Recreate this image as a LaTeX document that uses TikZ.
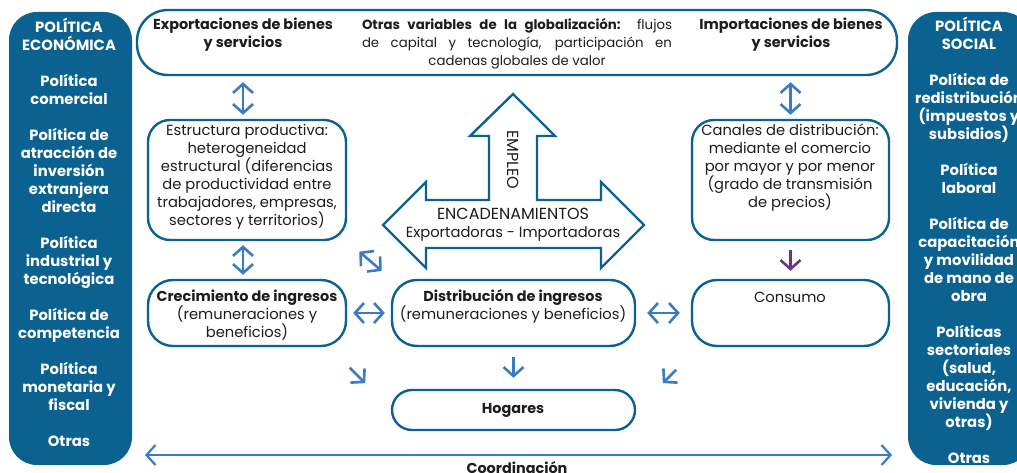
\documentclass[tikz,border=0pt]{standalone}
\usepackage{fontspec}
\setmainfont{Poppins}
\usetikzlibrary{arrows.meta,positioning}
\definecolor{cepalnavy}{RGB}{11,98,145}
\definecolor{cepalarrow}{RGB}{58,124,194}
\definecolor{cepalpurple}{RGB}{106,52,138}
\definecolor{cepaltext}{RGB}{30,28,30}

\begin{document}
\begin{tikzpicture}[x=1pt,y=-1pt,
    font=\fontsize{14.7}{18}\selectfont,
    panel/.style={rectangle,rounded corners=28pt,fill=cepalnavy,
      minimum width=123pt,minimum height=453pt,inner sep=0pt},
    paneltext/.style={text=white,align=center,inner sep=0pt,
      font=\fontsize{14.8}{18}\selectfont\bfseries},
    box/.style={rectangle,draw=cepalnavy,line width=2.4pt,fill=white,inner sep=0pt},
    txt/.style={align=center,inner sep=0pt,text=cepaltext},
    bold/.style={txt,font=\fontsize{14.4}{18}\selectfont\bfseries},
    caps/.style={txt,font=\fontsize{16}{18}\selectfont},
    dbl/.style={{Straight Barb[length=9pt,width=20pt]}-{Straight Barb[length=9pt,width=20pt]},
      line width=2.6pt,draw=cepalarrow},
    one/.style={-{Straight Barb[length=9pt,width=20pt]},line width=2.6pt,draw=cepalarrow}
  ]
    \useasboundingbox (0,0) rectangle (1017,473);

    % policy panels
    \node[panel] (econ) at (70.5,238.5) {};
    \node[paneltext] (econtxt) at (69,232) {POLÍTICA\\ECONÓMICA\\[18pt]
      Política\\comercial\\[18pt]
      Política de\\atracción de\\inversión\\extranjera\\directa\\[18pt]
      Política\\industrial y\\tecnológica\\[18pt]
      Política de\\competencia\\[18pt]
      Política\\monetaria y\\fiscal\\[18pt]
      Otras};
    \node[panel] (social) at (969.5,238.5) {};
    \node[paneltext] (socialtxt) at (969,240) {POLÍTICA\\SOCIAL\\[18pt]
      Política de\\redistribución\\(impuestos y\\subsidios)\\[18pt]
      Política\\laboral\\[18pt]
      Política de\\capacitación\\y movilidad\\de mano de\\obra\\[18pt]
      Políticas\\sectoriales\\(salud,\\educación,\\vivienda y\\otras)\\[18pt]
      Otras};

    % globalisation box
    \node[box,rounded corners=31pt,minimum width=760pt,minimum height=65pt] (globo) at (517,42.5) {};
    \node[bold] (expo) at (243,35) {Exportaciones de bienes\\y servicios};
    \node[txt,text width=310pt,align=justify,font=\fontsize{13.3}{18}\selectfont] (otras) at (517,44)
      {\leftskip=0pt plus 1fil\rightskip=0pt plus -1fil\parfillskip=0pt plus 2fil
       \textbf{Otras variables de la globalización:} flujos\linebreak
       de capital y tecnología, participación en\linebreak
       cadenas globales de valor\par};
    \node[bold] (impo) at (791,35) {Importaciones de bienes\\y servicios};

    % middle boxes
    \node[box,rounded corners=22pt,minimum width=198pt,minimum height=120pt] (estructura) at (247,180) {};
    \node[txt] (estructuratxt) at (247,177) {Estructura productiva:\\heterogeneidad\\estructural (diferencias\\de productividad entre\\trabajadores, empresas,\\sectores y territorios)};
    \node[box,rounded corners=22pt,minimum width=197pt,minimum height=120pt] (canales) at (790.5,180) {};
    \node[txt] (canalestxt) at (790,168) {Canales de distribución:\\mediante el comercio\\por mayor y por menor\\(grado de transmisión\\de precios)};

    % linkages arrow
    \draw[line width=2.4pt,draw=cepalnavy,fill=white,line join=miter]
      (513,94) -- (555,136) -- (537,136) -- (537,200) -- (601,200) -- (601,182)
      -- (644,225) -- (601,268) -- (601,248) -- (426,248) -- (426,268) -- (383,225)
      -- (426,182) -- (426,200) -- (489,200) -- (489,136) -- (470,136) -- cycle;
    \node[caps,rotate=-90] (empleo) at (513,160) {EMPLEO};
    \node[txt] (encad) at (513,225) {{\fontsize{16}{18}\selectfont ENCADENAMIENTOS}\\Exportadoras - Importadoras};

    % income boxes
    \node[box,rounded corners=25pt,minimum width=198pt,minimum height=66pt] (crecimiento) at (247,313) {};
    \node[txt] (crecimientotxt) at (247,315) {{\fontsize{14.4}{18}\selectfont\bfseries Crecimiento de ingresos}\\(remuneraciones y\\beneficios)};
    \node[box,rounded corners=25pt,minimum width=243pt,minimum height=66pt] (distribucion) at (513.5,313) {};
    \node[txt] (distribuciontxt) at (513,306) {{\fontsize{14.4}{18}\selectfont\bfseries Distribución de ingresos}\\(remuneraciones y beneficios)};
    \node[box,rounded corners=25pt,minimum width=197pt,minimum height=66pt] (consumo) at (790.5,313) {};
    \node[txt] (consumotxt) at (790,297) {Consumo};
    \node[box,rounded corners=20pt,minimum width=243pt,minimum height=40pt] (hogares) at (513.5,410) {};
    \node[bold] (hogarestxt) at (513,410) {Hogares};

    % connectors
    \draw[dbl,shorten <=6pt,shorten >=4pt] (globo.south -| expo) -- (estructura.north -| expo);
    \draw[dbl,shorten <=6pt,shorten >=4pt] (globo.south -| canales) -- (canales.north);
    \draw[dbl,shorten <=4pt,shorten >=4pt] ([xshift=-4pt]estructura.south) -- ([xshift=-4pt]crecimiento.north);
    \draw[one,draw=cepalpurple,shorten <=9pt,shorten >=8pt] (canales.south) -- (consumo.north);
    \draw[dbl,shorten <=16pt,shorten >=12pt] (estructura.south east) -- (distribucion.north west);
    \draw[dbl,shorten <=6pt,shorten >=6pt] (crecimiento.east) -- (distribucion.west);
    \draw[dbl,shorten <=11pt,shorten >=11pt] (distribucion.east) -- (consumo.west);
    \draw[one,shorten <=10pt,shorten >=11pt] (distribucion.south) -- (hogares.north);
    \draw[one,shorten <=29pt,shorten >=8pt] ([xshift=-18pt]crecimiento.south east) -- ([xshift=-20pt]hogares.north west);
    \draw[one,shorten <=32pt,shorten >=8pt] ([xshift=8pt]consumo.south west) -- ([xshift=21pt]hogares.north east);

    % coordination
    \coordinate (coordL) at (145,455);
    \coordinate (coordR) at (892,455);
    \draw[dbl,line width=2.2pt] (coordL) -- (coordR);
    \node[bold] (coordtxt) at (517,468) {Coordinación};
  \end{tikzpicture}
\end{document}
